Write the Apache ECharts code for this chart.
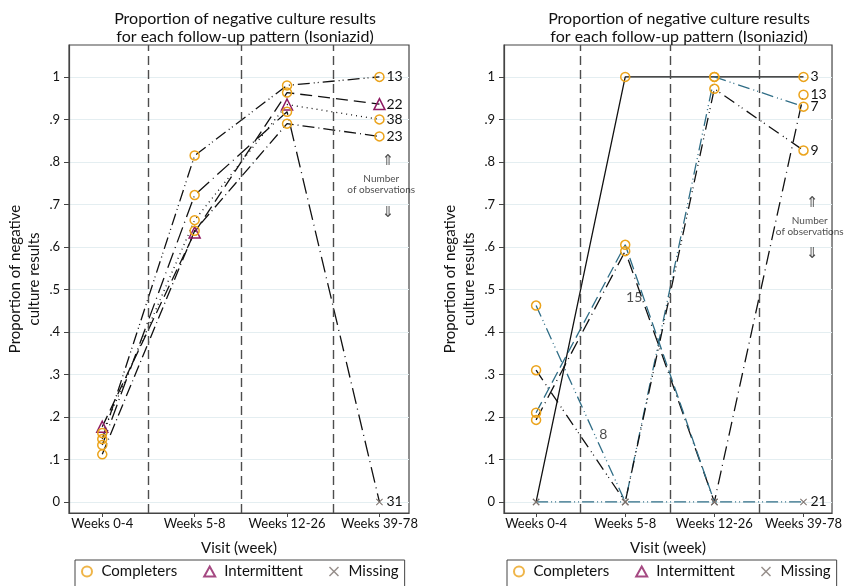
<!DOCTYPE html>
<html>
<head>
<meta charset="utf-8">
<script src="https://cdn.jsdelivr.net/npm/echarts@6/dist/echarts.min.js"></script>
<style>
  html, body { margin: 0; padding: 0; background: #fff; }
  #chart { width: 845px; height: 586px; }
</style>
</head>
<body>
<div id="chart"></div>
<script>
// categories and ticks
var visits = ['Weeks 0-4', 'Weeks 5-8', 'Weeks 12-26', 'Weeks 39-78'];
var visitPos = [1, 2, 3, 4];
var separators = [1.5, 2.5, 3.5];
var yTicks = [0, 0.1, 0.2, 0.3, 0.4, 0.5, 0.6, 0.7, 0.8, 0.9, 1];
var yTickLabels = ['0', '.1', '.2', '.3', '.4', '.5', '.6', '.7', '.8', '.9', '1'];

// left panel: proportion per visit, marker kind per visit (C completers, I intermittent, M missing)
var left13 = [0.148, 0.815, 0.98, 1.0];
var left13Kind = ['C', 'C', 'C', 'C'];
var left22 = [0.177, 0.634, 0.963, 0.936];
var left22Kind = ['I', 'I', 'C', 'I'];
var left38 = [0.162, 0.663, 0.935, 0.90];
var left38Kind = ['C', 'C', 'I', 'C'];
var left23 = [0.112, 0.638, 0.89, 0.86];
var left23Kind = ['C', 'C', 'C', 'C'];
var left31 = [0.134, 0.722, 0.918, 0];
var left31Kind = ['C', 'C', 'C', 'M'];

// right panel
var right3 = [0, 1.0, 1.0, 1.0];
var right3Kind = ['M', 'C', 'C', 'C'];
var right7 = [0.462, 0, 1.0, 0.93];
var right7Kind = ['C', 'M', 'C', 'C'];
var right9 = [0.31, 0, 0.972, 0.827];
var right9Kind = ['C', 'M', 'C', 'C'];
var right13 = [0.193, 0.59, 0, 0.958];
var right13Kind = ['C', 'C', 'M', 'C'];
var right15 = [0.21, 0.605, 0, null];
var right15Kind = ['C', 'C', 'M', 'M'];
var right21 = [0, 0, 0, 0];
var right21Kind = ['M', 'M', 'M', 'M'];
// counts written inside the right panel: [x, y, text]
var rightInnerLabels = [[1.755, 0.159, '8'], [2.10, 0.48, '15']];

var titleText = 'Proportion of negative culture results\nfor each follow-up pattern (Isoniazid)';
var FONT = 'Lato, "DejaVu Sans", sans-serif';
var ORANGE = '#eba31b';
var PURPLE = '#8e1b63';
var GREY = '#7b716c';
var TEAL = '#2f6d86';
var CROSS = 'path://M0,1L1,0L5,4L9,0L10,1L6,5L10,9L9,10L5,6L1,10L0,9L4,5Z';

function markerStyle(kind) {
    if (kind == 'I') {
        return { symbol: 'triangle', symbolSize: 11, itemStyle: { color: 'rgba(0,0,0,0)', borderColor: PURPLE, borderWidth: 1.5 } };
    } else if (kind == 'M') {
        return { symbol: CROSS, symbolSize: 7, itemStyle: { color: GREY, borderWidth: 0 } };
    }
    return { symbol: 'circle', symbolSize: 9, itemStyle: { color: 'rgba(0,0,0,0)', borderColor: ORANGE, borderWidth: 1.5 } };
}

function lineSeries(gi, values, kinds, color, dash, count) {
    var data = values.map(function (v, i) {
        if (v === null) return { value: [visitPos[i], null] };
        var m = markerStyle(kinds[i]);
        return { value: [visitPos[i], v], symbol: m.symbol, symbolSize: m.symbolSize, itemStyle: m.itemStyle };
    });
    return {
        type: 'line',
        xAxisIndex: gi,
        yAxisIndex: gi,
        data: data,
        showSymbol: true,
        connectNulls: false,
        lineStyle: { color: color, width: 1.3, type: dash },
        z: 3,
        endLabel: {
            show: count !== null,
            formatter: String(count),
            color: '#111',
            fontFamily: FONT,
            fontSize: 14,
            distance: 7
        }
    };
}

function textSeries(gi, items) {
    return {
        type: 'scatter',
        xAxisIndex: gi,
        yAxisIndex: gi,
        symbolSize: 0,
        silent: true,
        data: items.map(function (t) {
            return { value: [t[0], t[1]], label: { show: true, formatter: t[2], position: 'inside', color: '#222', fontFamily: FONT, fontSize: t[3], lineHeight: 11 } };
        })
    };
}

function frameSeries(gi) {
    return {
        type: 'line',
        xAxisIndex: gi,
        yAxisIndex: gi,
        data: [],
        silent: true,
        markLine: {
            symbol: 'none',
            silent: true,
            label: { show: false },
            lineStyle: { color: '#4d4d4d', width: 1.4, type: [9, 5] },
            data: separators.map(function (s) { return { xAxis: s }; })
        }
    };
}

var grids = [
    { left: 69, top: 45, width: 340, height: 468 },
    { left: 504, top: 45, width: 340, height: 468 }
];

var xAxes = grids.map(function (g, i) {
    return {
        type: 'value',
        gridIndex: i,
        min: 0.64,
        max: 4.32,
        name: 'Visit (week)',
        nameLocation: 'middle',
        nameGap: 28,
        nameTextStyle: { fontFamily: FONT, fontSize: 15, color: '#111' },
        axisLine: { show: true, onZero: false, lineStyle: { color: '#444', width: 1.2 } },
        axisTick: { show: true, customValues: visitPos, length: 4, lineStyle: { color: '#444' } },
        axisLabel: {
            customValues: visitPos,
            formatter: function (v) { return visits[Math.round(v) - 1]; },
            fontFamily: FONT, fontSize: 13, color: '#111', margin: 4
        },
        splitLine: { show: false }
    };
});

var yAxes = grids.map(function (g, i) {
    return {
        type: 'value',
        gridIndex: i,
        min: -0.026,
        max: 1.075,
        name: 'Proportion of negative\nculture results',
        nameLocation: 'middle',
        nameGap: 25,
        nameTextStyle: { fontFamily: FONT, fontSize: 15, color: '#111', lineHeight: 19 },
        axisLine: { show: true, lineStyle: { color: '#444', width: 1.2 } },
        axisTick: { show: true, customValues: yTicks, length: 5, lineStyle: { color: '#444' } },
        axisLabel: {
            customValues: yTicks,
            formatter: function (v) { return yTickLabels[Math.round(v * 10)]; },
            fontFamily: FONT, fontSize: 13, color: '#111', margin: 9
        },
        splitLine: { show: true, lineStyle: { color: '#e4eef1', width: 1.2 } }
    };
});

var series = [
    frameSeries(0),
    lineSeries(0, left13, left13Kind, '#111', [12, 4, 1, 3, 1, 4], 13),
    lineSeries(0, left22, left22Kind, '#111', [12, 6], 22),
    lineSeries(0, left38, left38Kind, '#111', [1, 4], 38),
    lineSeries(0, left23, left23Kind, '#111', [12, 4, 1, 4], 23),
    lineSeries(0, left31, left31Kind, '#111', [16, 5, 1, 5], 31),
    textSeries(0, [[4.09, 0.805, '⇑', 15], [4.02, 0.748, 'Number\nof observations', 10], [4.09, 0.682, '⇓', 15]]),
    frameSeries(1),
    lineSeries(1, right3, right3Kind, '#111', 'solid', 3),
    lineSeries(1, right7, right7Kind, TEAL, [12, 4, 1, 3, 1, 4], 7),
    lineSeries(1, right9, right9Kind, '#111', [12, 5, 1, 3, 1, 5], 9),
    lineSeries(1, right13, right13Kind, '#111', [14, 5, 1, 5], 13),
    lineSeries(1, right15, right15Kind, TEAL, [12, 5], null),
    lineSeries(1, right21, right21Kind, TEAL, [12, 3, 1, 3, 1, 3], 21),
    textSeries(1, rightInnerLabels.map(function (t) { return t.concat([14]); })),
    textSeries(1, [[4.095, 0.706, '⇑', 15], [4.07, 0.649, 'Number\nof observations', 10], [4.095, 0.586, '⇓', 15]]),
    // legend entries
    { type: 'scatter', name: 'Completers', data: [], symbol: 'circle', itemStyle: { color: 'rgba(0,0,0,0)', borderColor: ORANGE, borderWidth: 1.5 } },
    { type: 'scatter', name: 'Intermittent', data: [], symbol: 'triangle', itemStyle: { color: 'rgba(0,0,0,0)', borderColor: PURPLE, borderWidth: 1.5 } },
    { type: 'scatter', name: 'Missing', data: [], symbol: CROSS, itemStyle: { color: GREY } }
];

var legendBase = {
    data: ['Completers', 'Intermittent', 'Missing'],
    top: 560,
    itemWidth: 11,
    itemHeight: 10,
    itemGap: 26,
    padding: [4, 6, 14, 6],
    borderColor: '#444',
    borderWidth: 1,
    borderRadius: 0,
    selectedMode: false,
    textStyle: { fontFamily: FONT, fontSize: 15, color: '#111', padding: [0, 0, 0, 4] }
};

var titleStyle = { fontFamily: FONT, fontSize: 16, fontWeight: 'normal', color: '#111', lineHeight: 18 };

var option = {
    backgroundColor: '#ffffff',
    animation: false,
    title: [
        { text: titleText, left: 240, top: 5, textAlign: 'center', textStyle: titleStyle },
        { text: titleText, left: 674, top: 5, textAlign: 'center', textStyle: titleStyle }
    ],
    legend: [
        Object.assign({}, legendBase, { left: 75 }),
        Object.assign({}, legendBase, { left: 507 })
    ],
    grid: grids.map(function (g) { return Object.assign({ show: true, borderColor: '#444', borderWidth: 1.2, backgroundColor: '#fff' }, g); }),
    xAxis: xAxes,
    yAxis: yAxes,
    series: series
};

var myChart = echarts.init(document.getElementById('chart'));
myChart.setOption(option);
window.addEventListener('resize', function () {
    myChart.resize();
});
</script>
</body>
</html>
